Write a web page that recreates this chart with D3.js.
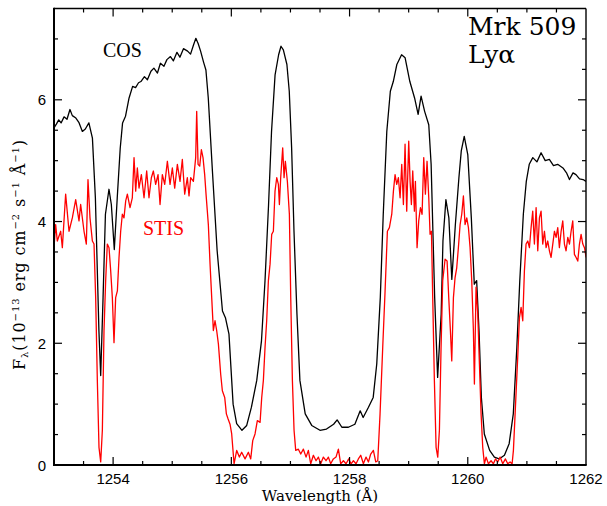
<!DOCTYPE html>
<html><head><meta charset="utf-8">
<script src="https://cdn.jsdelivr.net/npm/d3@7"></script>
<style>body{margin:0;background:#fff}</style>
</head><body>
<svg id="c" width="607" height="506"></svg>
<script>
const cosWave=[1253.00,1253.04,1253.08,1253.12,1253.17,1253.22,1253.27,1253.31,1253.37,1253.42,1253.48,1253.53,1253.59,1253.65,1253.70,1253.76,1253.79,1253.83,1253.87,1253.93,1253.97,1254.02,1254.07,1254.12,1254.16,1254.21,1254.27,1254.33,1254.38,1254.43,1254.47,1254.53,1254.58,1254.64,1254.69,1254.75,1254.80,1254.86,1254.91,1254.97,1255.02,1255.08,1255.13,1255.19,1255.26,1255.31,1255.36,1255.40,1255.44,1255.48,1255.53,1255.57,1255.61,1255.68,1255.76,1255.85,1255.90,1255.96,1256.03,1256.09,1256.18,1256.26,1256.34,1256.43,1256.51,1256.57,1256.63,1256.68,1256.74,1256.80,1256.84,1256.88,1256.94,1256.98,1257.02,1257.06,1257.11,1257.16,1257.25,1257.36,1257.50,1257.61,1257.73,1257.79,1257.87,1257.98,1258.09,1258.18,1258.23,1258.32,1258.40,1258.46,1258.52,1258.57,1258.63,1258.69,1258.74,1258.80,1258.88,1258.94,1259.02,1259.10,1259.16,1259.21,1259.27,1259.34,1259.38,1259.41,1259.44,1259.49,1259.55,1259.58,1259.63,1259.68,1259.73,1259.79,1259.85,1259.89,1259.94,1260.00,1260.06,1260.11,1260.15,1260.19,1260.23,1260.28,1260.37,1260.45,1260.53,1260.62,1260.70,1260.77,1260.83,1260.88,1260.94,1260.99,1261.04,1261.10,1261.17,1261.24,1261.31,1261.38,1261.45,1261.52,1261.61,1261.67,1261.72,1261.78,1261.83,1261.89,1261.95,1262.00];
const cosFlux=[5.54,5.60,5.67,5.62,5.72,5.68,5.84,5.74,5.70,5.63,5.48,5.52,5.62,5.37,4.39,2.20,1.47,2.75,4.12,4.53,4.28,3.54,4.39,5.20,5.62,5.73,6.03,6.22,6.20,6.28,6.30,6.38,6.33,6.47,6.52,6.44,6.60,6.55,6.66,6.71,6.64,6.78,6.70,6.84,6.80,6.75,6.90,7.01,6.92,6.80,6.62,6.49,6.03,4.83,3.52,2.53,2.42,2.15,1.00,0.68,0.57,0.65,0.95,1.39,2.04,3.03,4.28,5.48,6.41,6.74,6.88,6.82,6.58,6.14,5.21,3.84,2.48,1.39,0.84,0.65,0.57,0.59,0.67,0.74,0.62,0.62,0.67,0.89,0.78,0.95,1.11,1.66,2.75,4.12,5.48,6.14,6.30,6.58,6.74,6.69,6.30,6.03,5.76,6.06,5.81,5.59,4.94,3.84,2.75,1.44,2.48,3.68,4.36,4.06,3.05,3.95,4.72,5.16,5.40,5.10,4.06,2.97,3.03,2.21,1.11,0.51,0.24,0.13,0.10,0.16,0.35,0.84,1.93,3.03,4.12,4.66,4.94,5.05,4.98,5.13,5.00,5.02,4.92,4.94,4.88,4.80,4.69,4.80,4.77,4.70,4.69,4.66];
const stisWave=[1253.000,1253.028,1253.056,1253.113,1253.141,1253.197,1253.254,1253.310,1253.367,1253.423,1253.451,1253.508,1253.547,1253.575,1253.609,1253.649,1253.677,1253.705,1253.733,1253.761,1253.790,1253.818,1253.846,1253.874,1253.902,1253.931,1253.959,1253.987,1254.015,1254.043,1254.072,1254.100,1254.128,1254.156,1254.184,1254.213,1254.241,1254.286,1254.325,1254.354,1254.382,1254.410,1254.438,1254.478,1254.523,1254.568,1254.607,1254.647,1254.681,1254.720,1254.760,1254.794,1254.833,1254.873,1254.918,1254.963,1255.002,1255.042,1255.087,1255.132,1255.171,1255.211,1255.256,1255.284,1255.312,1255.358,1255.397,1255.414,1255.437,1255.465,1255.493,1255.521,1255.549,1255.572,1255.594,1255.611,1255.640,1255.668,1255.696,1255.724,1255.752,1255.781,1255.820,1255.848,1255.888,1255.916,1255.944,1255.978,1256.006,1256.046,1256.091,1256.136,1256.175,1256.232,1256.288,1256.328,1256.362,1256.401,1256.440,1256.486,1256.514,1256.542,1256.570,1256.598,1256.627,1256.655,1256.683,1256.711,1256.739,1256.768,1256.796,1256.813,1256.835,1256.869,1256.892,1256.914,1256.948,1256.982,1257.005,1257.033,1257.061,1257.089,1257.134,1257.174,1257.219,1257.264,1257.303,1257.343,1257.388,1257.433,1257.473,1257.512,1257.557,1257.602,1257.642,1257.681,1257.726,1257.771,1257.811,1257.850,1257.896,1257.941,1257.986,1258.025,1258.065,1258.110,1258.149,1258.189,1258.234,1258.279,1258.319,1258.358,1258.403,1258.443,1258.477,1258.516,1258.561,1258.601,1258.640,1258.674,1258.714,1258.742,1258.770,1258.798,1258.826,1258.855,1258.883,1258.911,1258.939,1258.967,1259.001,1259.024,1259.046,1259.069,1259.097,1259.114,1259.142,1259.170,1259.199,1259.227,1259.255,1259.283,1259.311,1259.340,1259.362,1259.385,1259.407,1259.435,1259.464,1259.492,1259.520,1259.548,1259.576,1259.616,1259.650,1259.678,1259.706,1259.729,1259.757,1259.785,1259.813,1259.841,1259.870,1259.898,1259.926,1259.954,1259.983,1260.011,1260.039,1260.067,1260.095,1260.112,1260.140,1260.169,1260.197,1260.225,1260.253,1260.281,1260.310,1260.349,1260.394,1260.434,1260.468,1260.507,1260.547,1260.592,1260.637,1260.676,1260.716,1260.750,1260.772,1260.806,1260.845,1260.874,1260.902,1260.930,1260.958,1260.986,1261.015,1261.043,1261.071,1261.099,1261.127,1261.156,1261.184,1261.212,1261.240,1261.268,1261.297,1261.325,1261.353,1261.381,1261.409,1261.438,1261.466,1261.494,1261.522,1261.550,1261.579,1261.607,1261.635,1261.663,1261.692,1261.720,1261.748,1261.776,1261.804,1261.833,1261.861,1261.889,1261.917,1261.946,1261.974,1262.002];
const stisFlux=[3.57,3.95,3.68,3.84,3.57,4.45,3.84,4.06,4.36,4.01,4.28,3.84,3.63,4.69,4.06,3.68,3.63,2.75,1.39,0.29,0.05,0.57,2.21,3.03,3.63,3.57,3.19,2.75,2.01,2.75,2.86,3.41,3.84,4.12,4.06,4.34,4.45,4.23,4.39,5.05,4.50,4.88,4.55,4.77,4.39,4.83,4.39,4.72,4.83,4.61,4.77,4.28,4.77,4.61,4.99,4.61,4.88,4.55,4.94,4.66,5.02,4.45,4.72,4.42,4.72,4.66,5.05,5.81,4.94,4.91,5.18,5.05,4.77,4.45,4.17,3.95,3.30,2.75,2.21,2.37,2.21,1.99,1.49,1.22,1.11,0.84,0.76,0.67,0.51,0.02,0.24,0.13,0.21,0.10,0.21,0.10,0.40,0.51,0.73,0.70,1.11,1.39,1.93,2.37,3.03,3.30,3.79,3.84,4.50,4.72,4.61,4.28,4.72,5.21,4.72,4.99,4.66,4.12,2.75,1.39,0.57,0.24,0.26,0.18,0.26,0.13,0.24,0.02,0.16,0.07,0.13,0.02,0.13,0.07,0.13,0.02,0.10,0.13,0.26,0.02,0.07,0.02,0.10,0.02,0.07,0.02,0.10,0.16,0.02,0.13,0.05,0.18,0.24,0.05,0.07,0.84,1.93,2.86,3.84,3.90,4.12,4.50,4.77,4.61,4.72,4.39,4.94,4.28,5.27,4.17,5.32,4.66,4.28,4.83,4.17,4.66,3.57,4.01,4.23,4.12,5.05,4.45,4.99,4.39,3.79,3.84,2.75,1.39,0.29,0.13,0.57,1.93,3.03,3.38,3.35,2.75,2.21,1.71,2.75,3.08,3.24,3.57,3.95,4.12,4.42,3.95,4.06,3.90,3.57,3.03,2.21,1.33,2.92,2.48,1.66,0.84,0.29,0.02,0.13,0.02,0.07,0.02,0.10,0.05,0.13,0.02,0.10,0.02,0.05,0.02,0.24,0.95,1.77,2.42,2.59,2.37,3.19,3.63,3.68,3.57,3.90,4.17,3.63,4.23,3.52,4.06,4.17,3.63,3.84,3.57,3.68,3.52,3.41,3.63,3.84,3.74,3.90,3.57,3.84,4.01,3.63,3.52,3.74,3.63,3.84,4.01,3.46,3.41,3.35,3.63,3.79,3.63,3.57,3.41];
const xDomain=[1253,1262];
const yDomain=[0,7.5];
const xTickLabels=[1254,1256,1258,1260,1262];
const yTickLabels=[0,2,4,6];

const svg=d3.select("#c");
const L=54,R=586,T=8.5,B=465;
const x=d3.scaleLinear().domain(xDomain).range([L,R]);
const y=d3.scaleLinear().domain(yDomain).range([B,T]);

svg.append("clipPath").attr("id","clip").append("rect").attr("x",L).attr("y",T).attr("width",R-L).attr("height",B-T);

const line=d3.line().x(d=>x(d[0])).y(d=>y(d[1]));
const g=svg.append("g").attr("clip-path","url(#clip)");
g.append("path").datum(cosWave.map((w,i)=>[w,cosFlux[i]])).attr("d",line)
 .attr("fill","none").attr("stroke","#000").attr("stroke-width",1.3).attr("stroke-linejoin","round");
g.append("path").datum(stisWave.map((w,i)=>[w,stisFlux[i]])).attr("d",line)
 .attr("fill","none").attr("stroke","#ff0000").attr("stroke-width",1.3).attr("stroke-linejoin","round");

// ticks
const xMinor=d3.range(1253.5,1262,0.5);
const yMinor=d3.range(0.5,7.5,0.5);
const tk=svg.append("g").attr("stroke","#000").attr("stroke-width",1.2);
xMinor.forEach(v=>{
  const major=Math.abs(v%2)<1e-6;
  const len=major?8:4;
  tk.append("line").attr("x1",x(v)).attr("x2",x(v)).attr("y1",B).attr("y2",B-len);
  tk.append("line").attr("x1",x(v)).attr("x2",x(v)).attr("y1",T).attr("y2",T+len);
});
yMinor.forEach(v=>{
  const major=Math.abs(v%2)<1e-6;
  const len=major?8:4;
  tk.append("line").attr("x1",L).attr("x2",L+len).attr("y1",y(v)).attr("y2",y(v));
  tk.append("line").attr("x1",R).attr("x2",R-len).attr("y1",y(v)).attr("y2",y(v));
});
// frame
svg.append("line").attr("x1",L).attr("x2",R).attr("y1",T).attr("y2",T).attr("stroke","#000").attr("stroke-width",1.4);
svg.append("line").attr("x1",R).attr("x2",R).attr("y1",T).attr("y2",B).attr("stroke","#000").attr("stroke-width",1.4);
svg.append("line").attr("x1",L).attr("x2",L).attr("y1",T-0.7).attr("y2",B+1).attr("stroke","#000").attr("stroke-width",2);
svg.append("line").attr("x1",L-1).attr("x2",R+0.7).attr("y1",B).attr("y2",B).attr("stroke","#000").attr("stroke-width",2);

const tf="'Liberation Sans', Arial, sans-serif";
svg.append("g").selectAll("text").data(xTickLabels).join("text")
 .attr("x",d=>x(d)).attr("y",484).attr("text-anchor","middle")
 .attr("font-family",tf).attr("font-size",15).text(d=>d);
svg.append("g").selectAll("text").data(yTickLabels).join("text")
 .attr("x",46).attr("y",d=>y(d)+5.5).attr("text-anchor","end")
 .attr("font-family",tf).attr("font-size",15).text(d=>d);

const sf="'Liberation Serif','DejaVu Serif',serif";
const df="'DejaVu Serif',serif";
svg.append("text").attr("x",320).attr("y",501).attr("text-anchor","middle")
 .attr("font-family",df).attr("font-size",15)
 .text("Wavelength (Å)");

const yl=svg.append("text").attr("transform","translate(25,255) rotate(-90)")
 .attr("text-anchor","middle").attr("font-family",df).attr("font-size",16)
 .attr("textLength",230).attr("lengthAdjust","spacing");
yl.append("tspan").text("F");
yl.append("tspan").attr("font-size",10).attr("dy",3).text("λ");
yl.append("tspan").attr("dy",-3).text("(10");
yl.append("tspan").attr("font-size",10).attr("dy",-6).text("−13");
yl.append("tspan").attr("dy",6).text(" erg cm");
yl.append("tspan").attr("font-size",10).attr("dy",-6).text("−2");
yl.append("tspan").attr("dy",6).text(" s");
yl.append("tspan").attr("font-size",10).attr("dy",-6).text("−1");
yl.append("tspan").attr("dy",6).text(" Å");
yl.append("tspan").attr("font-size",10).attr("dy",-6).text("−1");
yl.append("tspan").attr("dy",6).text(")");

svg.append("text").attr("x",468).attr("y",35).attr("font-family",df).attr("font-size",25).text("Mrk 509");
svg.append("text").attr("x",468).attr("y",63).attr("font-family",df).attr("font-size",25).text("Lyα");
svg.append("text").attr("x",103).attr("y",57).attr("font-family",sf).attr("font-size",20).text("COS");
svg.append("text").attr("x",143).attr("y",235).attr("font-family",sf).attr("font-size",20).attr("fill","#ff0000").text("STIS");
</script>
</body></html>
